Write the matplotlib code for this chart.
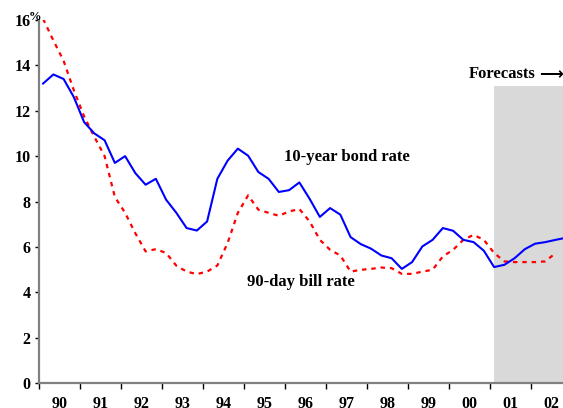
import numpy as np
import matplotlib
matplotlib.use('Agg')
import matplotlib.pyplot as plt

plt.rcParams['font.family'] = ['Liberation Serif', 'DejaVu Serif']
plt.rcParams['font.weight'] = 'bold'

# quarterly values, starting 1990 Q1
bond_rate = [13.2, 13.6, 13.4, 12.6, 11.5, 11.0, 10.7, 9.7, 10.0, 9.25,
             8.74, 9.0, 8.08, 7.5, 6.83, 6.72, 7.12, 9.0, 9.8, 10.33,
             10.02, 9.3, 9.0, 8.42, 8.5, 8.84, 8.12, 7.32, 7.71, 7.42,
             6.43, 6.12, 5.92, 5.62, 5.5, 5.03, 5.33, 6.02, 6.31, 6.83,
             6.71, 6.31, 6.21, 5.83, 5.11, 5.21, 5.5, 5.9, 6.14, 6.21,
             6.31, 6.4]
bill_rate = [16.05, 15.1, 14.2, 12.9, 11.75, 10.85, 10.0, 8.2, 7.5, 6.6,
             5.8, 5.9, 5.73, 5.17, 4.91, 4.8, 4.91, 5.18, 6.17, 7.5,
             8.27, 7.64, 7.5, 7.37, 7.56, 7.67, 7.12, 6.31, 5.87, 5.62,
             4.91, 4.99, 5.03, 5.09, 5.06, 4.81, 4.81, 4.91, 4.99, 5.58,
             5.87, 6.31, 6.53, 6.31, 5.73, 5.36, 5.33, 5.33, 5.33, 5.36,
             5.73]
years = ['90', '91', '92', '93', '94', '95', '96', '97', '98', '99', '00', '01', '02']
forecast_start = 11.1

x_bond = 0.1 + np.arange(len(bond_rate)) / 4
x_bill = 0.1 + np.arange(len(bill_rate)) / 4

fig = plt.figure(figsize=(5.63, 4.08), dpi=100)
ax = fig.add_axes([39 / 563, 25 / 408, 524 / 563, 363 / 408])

xmax = 524 / 41
ax.fill_between([forecast_start, xmax], 0, 13.1, color='#d9d9d9', zorder=0, linewidth=0)
ax.plot(x_bond, bond_rate, color='#0000ff', lw=1.5, zorder=3)
ax.plot(x_bill, bill_rate, color='#ff0000', lw=1.6, ls=(0, (2, 2.2)), zorder=2)

ax.set_xlim(0, xmax)
ax.set_ylim(0, 16)

for s in ['top', 'right']:
    ax.spines[s].set_visible(False)
for s in ['left', 'bottom']:
    ax.spines[s].set_color('#808080')
    ax.spines[s].set_linewidth(1.6)

ax.set_yticks(range(0, 17, 2))
ax.set_yticklabels([str(v) for v in range(0, 17, 2)], fontsize=11.5, fontweight='bold')
ax.tick_params(axis='y', length=3, width=1, direction='out', pad=3)

ax.set_xticks(range(0, 13))
ax.set_xticklabels([])
ax.set_xticks(np.arange(0.5, 13, 1), minor=True)
ax.set_xticklabels(years, minor=True, fontsize=11.5, fontweight='bold')
ax.tick_params(axis='x', which='major', length=4, width=1, direction='out')
ax.tick_params(axis='x', which='minor', length=0, pad=9.5)

ax.text(-0.1, 16.15, '%', fontsize=9, fontweight='bold', ha='center', va='center')
ax.text(7.5, 9.98, '10-year bond rate', fontsize=12, fontweight='bold', ha='center', va='center')
ax.text(6.38, 4.45, '90-day bill rate', fontsize=12, fontweight='bold', ha='center', va='center')
ax.text(12.1, 13.6, 'Forecasts', fontsize=12, fontweight='bold', ha='right', va='center')
ax.text(12.2, 13.62, '\u27f6', fontsize=12, fontweight='bold', ha='left', va='center',
        family=['DejaVu Sans'])

fig.savefig('out.png', dpi=100)
